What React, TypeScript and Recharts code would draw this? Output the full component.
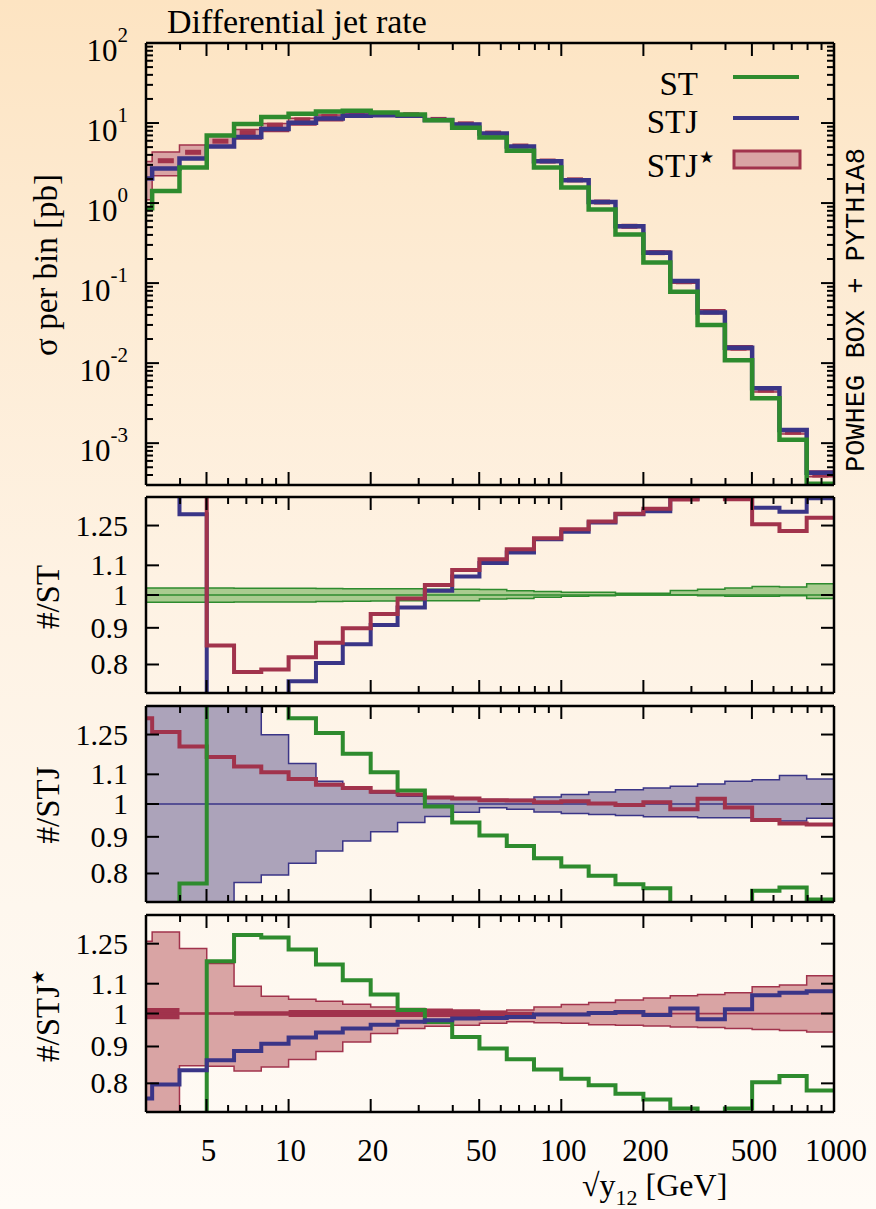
import { ComposedChart, Line, Area, Scatter, XAxis, YAxis, ReferenceLine } from 'recharts'

const SERIF = '"Liberation Serif", "Times New Roman", serif'
const MONO = '"Liberation Mono", "DejaVu Sans Mono", monospace'

const GREEN = '#2e8b2e'
const BLUE = '#3a3587'
const RED = '#a1334c'
const PINK = '#d9a4a4'
const LILAC = '#aca3ba'
const MINT = '#a9cb8f'

// bin edges of sqrt(y12) in GeV (26 bins, last entry closes the final bin)
const binEdges = [2.51, 3.16, 3.98, 5.01, 6.31, 7.94, 10, 12.6, 15.8, 20, 25.1, 31.6, 39.8, 50.1, 63.1, 79.4, 100, 126, 158, 200, 251, 316, 398, 501, 631, 794, 1000]

// cross section per bin [pb]
const stXsec = [0.86, 1.41, 2.78, 7.0, 9.7, 11.9, 13.1, 13.9, 14.2, 13.5, 12.8, 10.8, 8.7, 6.6, 4.5, 2.78, 1.57, 0.83, 0.405, 0.181, 0.0778, 0.0299, 0.0109, 0.00363, 0.0011, 0.00031]
const stjXsec = [2.03, 2.7, 3.6, 5.1, 6.7, 8.4, 10.1, 11.4, 12.3, 12.5, 12.3, 10.9, 9.6, 7.4, 5.1, 3.33, 1.93, 1.03, 0.515, 0.239, 0.106, 0.043, 0.0156, 0.00484, 0.00146, 0.000428]
const starXsec = [2.67, 3.38, 4.31, 5.93, 7.6, 9.4, 10.95, 12.1, 12.95, 13.0, 12.7, 11.1, 9.77, 7.49, 5.16, 3.35, 1.95, 1.03, 0.513, 0.24, 0.104, 0.0437, 0.0154, 0.0046, 0.00137, 0.0004]
const starXsecLo = [1.1, 2.2, 3.65, 5.0, 6.3, 7.85, 9.45, 10.7, 11.8, 12.2, 12.1, 10.7, 9.4, 7.25, 5.02, 3.25, 1.89, 0.995, 0.494, 0.231, 0.0996, 0.0418, 0.0147, 0.00437, 0.0013, 0.00038]
const starXsecHi = [3.3, 4.35, 5.3, 6.9, 8.3, 9.9, 11.5, 12.6, 13.3, 13.3, 12.9, 11.3, 9.9, 7.55, 5.22, 3.42, 2.0, 1.07, 0.535, 0.252, 0.11, 0.0464, 0.0165, 0.005, 0.0015, 0.00045]

// ratios to ST
const stjOverSt = [2.36, 1.91, 1.296, 0.72, 0.69, 0.706, 0.758, 0.804, 0.854, 0.908, 0.961, 1.014, 1.061, 1.108, 1.146, 1.196, 1.225, 1.262, 1.296, 1.309, 1.362, 1.44, 1.43, 1.324, 1.307, 1.365]
const starOverSt = [3.1, 2.4, 1.55, 0.85, 0.781, 0.787, 0.819, 0.858, 0.899, 0.941, 0.989, 1.033, 1.084, 1.122, 1.158, 1.2, 1.235, 1.266, 1.298, 1.319, 1.359, 1.46, 1.36, 1.255, 1.228, 1.282]
const stBandLo = [0.977, 0.977, 0.977, 0.977, 0.978, 0.978, 0.978, 0.979, 0.98, 0.981, 0.982, 0.982, 0.982, 0.987, 0.989, 0.993, 0.996, 0.998, 1.0, 1.0, 1.0, 0.998, 0.996, 0.996, 0.998, 0.989]
const stBandHi = [1.023, 1.023, 1.023, 1.023, 1.022, 1.022, 1.022, 1.021, 1.02, 1.02, 1.02, 1.019, 1.019, 1.018, 1.014, 1.011, 1.009, 1.009, 1.006, 1.006, 1.015, 1.019, 1.023, 1.028, 1.026, 1.037]

// ratios to STJ
const stOverStj = [0.42, 0.52, 0.775, 1.39, 1.45, 1.42, 1.317, 1.256, 1.175, 1.107, 1.044, 0.992, 0.942, 0.904, 0.874, 0.84, 0.818, 0.794, 0.773, 0.763, 0.72, 0.695, 0.7, 0.757, 0.765, 0.736]
const starOverStj = [1.317, 1.26, 1.203, 1.163, 1.128, 1.107, 1.084, 1.064, 1.053, 1.04, 1.031, 1.021, 1.018, 1.012, 1.011, 1.006, 1.009, 1.002, 0.997, 1.006, 0.983, 1.017, 0.989, 0.95, 0.939, 0.936]
const stjBandLo = [0.55, 0.6, 0.65, 0.7, 0.777, 0.796, 0.827, 0.86, 0.888, 0.915, 0.942, 0.961, 0.974, 0.988, 0.983, 0.975, 0.97, 0.967, 0.964, 0.96, 0.96, 0.957, 0.957, 0.95, 0.947, 0.955]
const stjBandHi = [1.6, 1.6, 1.55, 1.5, 1.45, 1.249, 1.139, 1.076, 1.057, 1.036, 1.025, 1.02, 1.017, 1.015, 1.015, 1.023, 1.031, 1.039, 1.047, 1.053, 1.059, 1.066, 1.076, 1.081, 1.096, 1.084]

// ratios to STJ*
const stOverStar = [0.32, 0.42, 0.645, 1.182, 1.285, 1.275, 1.227, 1.17, 1.112, 1.063, 1.011, 0.973, 0.928, 0.894, 0.864, 0.836, 0.812, 0.795, 0.774, 0.76, 0.738, 0.7, 0.738, 0.803, 0.819, 0.782]
const stjOverStar = [0.762, 0.797, 0.834, 0.861, 0.887, 0.908, 0.926, 0.941, 0.953, 0.965, 0.974, 0.979, 0.984, 0.986, 0.989, 0.997, 0.997, 1.002, 1.005, 0.995, 1.016, 0.982, 1.014, 1.06, 1.069, 1.074]
const starBandLo = [0.6, 0.65, 0.846, 0.845, 0.832, 0.843, 0.863, 0.886, 0.913, 0.938, 0.953, 0.96, 0.963, 0.969, 0.974, 0.971, 0.969, 0.965, 0.963, 0.961, 0.958, 0.956, 0.953, 0.95, 0.947, 0.943]
const starBandHi = [1.26, 1.298, 1.231, 1.173, 1.091, 1.057, 1.047, 1.04, 1.03, 1.021, 1.016, 1.014, 1.011, 1.007, 1.011, 1.021, 1.029, 1.036, 1.044, 1.051, 1.058, 1.063, 1.069, 1.089, 1.095, 1.128]
const starStatLo = [0.982, 0.982, 0.996, 0.996, 0.993, 0.993, 0.989, 0.989, 0.989, 0.989, 0.989, 0.989, 0.989, 0.991, 0.994, 0.998, 0.998, 0.998, 0.998, 0.998, 0.998, 0.998, 0.998, 0.998, 0.998, 0.998]
const starStatHi = [1.018, 1.018, 1.004, 1.004, 1.007, 1.007, 1.011, 1.011, 1.011, 1.011, 1.011, 1.011, 1.011, 1.009, 1.006, 1.002, 1.002, 1.002, 1.002, 1.002, 1.002, 1.002, 1.002, 1.002, 1.002, 1.002]

// axis ticks
const X_MAJOR = [5, 10, 20, 50, 100, 200, 500, 1000]
const X_TICKS = [4, 5, 6, 7, 8, 9, 10, 20, 30, 40, 50, 60, 70, 80, 90, 100, 200, 300, 400, 500, 600, 700, 800, 900, 1000]
const XSEC_DECADES = [1e-3, 1e-2, 1e-1, 1, 10, 100]
const XSEC_EXP = ['-3', '-2', '-1', '0', '1', '2']
const RATIO_TICKS = [0.8, 0.9, 1, 1.1, 1.25]

const X_DOMAIN: [number, number] = [3, 1000]
const XSEC_DOMAIN: [number, number] = [3e-4, 100]
const RATIO_DOMAIN: [number, number] = [0.73, 1.37]

const xsecMinor = [1e-4, 1e-3, 1e-2, 1e-1, 1, 10]
  .flatMap((d) => [2, 3, 4, 5, 6, 7, 8, 9].map((m) => Number((m * d).toPrecision(3))))
  .filter((v) => v > XSEC_DOMAIN[0] && v < XSEC_DOMAIN[1])
const XSEC_TICKS = [...XSEC_DECADES, ...xsecMinor]

// one row per bin edge; the closing edge repeats the last bin so stepAfter reaches 1000
const last = binEdges.length - 2
const rows = binEdges.map((x, i) => {
  const k = Math.min(i, last)
  return {
    x,
    st: stXsec[k], stj: stjXsec[k], star: starXsec[k],
    starBand: [starXsecLo[k], starXsecHi[k]],
    stjSt: stjOverSt[k], starSt: starOverSt[k], stBand: [stBandLo[k], stBandHi[k]],
    stStj: stOverStj[k], starStj: starOverStj[k], stjBand: [stjBandLo[k], stjBandHi[k]],
    stStar: stOverStar[k], stjStar: stjOverStar[k],
    starRBand: [starBandLo[k], starBandHi[k]], starStat: [starStatLo[k], starStatHi[k]],
  }
})
const centres = starXsec.map((v, i) => ({ x: Math.sqrt(binEdges[i] * binEdges[i + 1]), star: v }))

const FRAME = { stroke: '#000', strokeWidth: 2.5 }
const TICK = { stroke: '#000', strokeWidth: 2 }

const tickBottom = (labels: boolean) => (p: any) => {
  const v = p.payload.value
  const major = X_MAJOR.includes(v)
  return (
    <g>
      <line x1={p.x} x2={p.x} y1={p.y} y2={p.y - (major ? 13 : 7)} {...TICK} />
      {labels && major && (
        <text x={p.x + 2} y={p.y + 49} textAnchor="middle" fontFamily={SERIF} fontSize={31} fill="#000">{v}</text>
      )}
    </g>
  )
}

const tickTop = (p: any) => {
  const major = X_MAJOR.includes(p.payload.value)
  return <line x1={p.x} x2={p.x} y1={p.y} y2={p.y + (major ? 13 : 7)} {...TICK} />
}

const tickLeft = (log: boolean) => (p: any) => {
  const v = p.payload.value
  const i = XSEC_DECADES.indexOf(v)
  const major = !log || i >= 0
  return (
    <g>
      <line x1={p.x} x2={p.x + (major ? 13 : 7)} y1={p.y} y2={p.y} {...TICK} />
      {log && major && (
        <text x={p.x - 18} y={p.y + 17.5} textAnchor="end" fontFamily={SERIF} fill="#000">
          <tspan fontSize={31}>10</tspan>
          <tspan fontSize={21} dy={-18.5}>{XSEC_EXP[i]}</tspan>
        </text>
      )}
      {!log && (
        <text x={p.x - 18} y={p.y + 10} textAnchor="end" fontFamily={SERIF} fontSize={30} fill="#000">{v}</text>
      )}
    </g>
  )
}

const tickRight = (log: boolean) => (p: any) => {
  const major = !log || XSEC_DECADES.includes(p.payload.value)
  return <line x1={p.x} x2={p.x - (major ? 13 : 7)} y1={p.y} y2={p.y} {...TICK} />
}

// border with inward ticks on all four sides
function frameAxes(topH: number, bottomH: number, log: boolean, xLabels: boolean) {
  const yDomain = log ? XSEC_DOMAIN : RATIO_DOMAIN
  const yTicks = log ? XSEC_TICKS : RATIO_TICKS
  return [
    <XAxis key="xb" dataKey="x" type="number" scale="log" domain={X_DOMAIN} allowDataOverflow
      ticks={X_TICKS} interval={0} height={bottomH} tickSize={0} tickMargin={0} tickLine={false}
      axisLine={FRAME} tick={tickBottom(xLabels)} />,
    <XAxis key="xt" xAxisId="top" orientation="top" dataKey="x" type="number" scale="log" domain={X_DOMAIN}
      allowDataOverflow ticks={X_TICKS} interval={0} height={topH} tickSize={0} tickMargin={0}
      tickLine={false} axisLine={FRAME} tick={tickTop} />,
    <YAxis key="yl" type="number" scale="log" domain={yDomain} allowDataOverflow ticks={yTicks}
      interval={0} width={146} tickSize={0} tickMargin={0} tickLine={false} axisLine={FRAME}
      tick={tickLeft(log)} />,
    <YAxis key="yr" yAxisId="right" orientation="right" type="number" scale="log" domain={yDomain}
      allowDataOverflow ticks={yTicks} interval={0} width={42} tickSize={0} tickMargin={0}
      tickLine={false} axisLine={FRAME} tick={tickRight(log)} />,
  ]
}

const NO_MARGIN = { top: 0, right: 0, bottom: 0, left: 0 }

// short bar marking the STJ* central value in each bin
const Dash = (p: any) => <rect x={p.cx - 8} y={p.cy - 2.5} width={16} height={5} fill={RED} />

function XsecPanel() {
  return (
    <ComposedChart width={876} height={490} data={rows} margin={NO_MARGIN}>
      <Area dataKey="starBand" type="stepAfter" fill={PINK} fillOpacity={1} stroke={RED} strokeWidth={1.5} isAnimationActive={false} />
      <Scatter data={centres} dataKey="star" shape={Dash} zIndex={200} isAnimationActive={false} />
      <Line dataKey="stj" type="stepAfter" stroke={BLUE} strokeWidth={4.5} dot={false} isAnimationActive={false} />
      <Line dataKey="st" type="stepAfter" stroke={GREEN} strokeWidth={4.5} dot={false} isAnimationActive={false} />
      {frameAxes(43, 5, true, false)}
    </ComposedChart>
  )
}

function RatioStPanel() {
  return (
    <ComposedChart width={876} height={216} data={rows} margin={NO_MARGIN}>
      <Area dataKey="stBand" type="stepAfter" fill={MINT} fillOpacity={1} stroke={GREEN} strokeWidth={1.5} isAnimationActive={false} />
      <ReferenceLine y={1} stroke={GREEN} strokeWidth={1.5} />
      <Line dataKey="stjSt" type="stepAfter" stroke={BLUE} strokeWidth={4} dot={false} isAnimationActive={false} />
      <Line dataKey="starSt" type="stepAfter" stroke={RED} strokeWidth={4} dot={false} isAnimationActive={false} />
      {frameAxes(10, 10, false, false)}
    </ComposedChart>
  )
}

function RatioStjPanel() {
  return (
    <ComposedChart width={876} height={216} data={rows} margin={NO_MARGIN}>
      <Area dataKey="stjBand" type="stepAfter" fill={LILAC} fillOpacity={1} stroke={BLUE} strokeWidth={1.5} isAnimationActive={false} />
      <ReferenceLine y={1} stroke={BLUE} strokeWidth={1.5} />
      <Line dataKey="starStj" type="stepAfter" stroke={RED} strokeWidth={4} dot={false} isAnimationActive={false} />
      <Line dataKey="stStj" type="stepAfter" stroke={GREEN} strokeWidth={4} dot={false} isAnimationActive={false} />
      {frameAxes(10, 10, false, false)}
    </ComposedChart>
  )
}

function RatioStarPanel() {
  return (
    <ComposedChart width={876} height={304} data={rows} margin={NO_MARGIN}>
      <Area dataKey="starRBand" type="stepAfter" fill={PINK} fillOpacity={1} stroke={RED} strokeWidth={1.5} isAnimationActive={false} />
      <Area dataKey="starStat" type="stepAfter" fill={RED} fillOpacity={1} stroke="none" isAnimationActive={false} />
      <ReferenceLine y={1} stroke={RED} strokeWidth={1.5} />
      <Line dataKey="stStar" type="stepAfter" stroke={GREEN} strokeWidth={4} dot={false} isAnimationActive={false} />
      <Line dataKey="stjStar" type="stepAfter" stroke={BLUE} strokeWidth={4} dot={false} isAnimationActive={false} />
      {frameAxes(10, 97, false, true)}
    </ComposedChart>
  )
}

const at = (top: number): React.CSSProperties => ({ position: 'absolute', left: 0, top })

export default function App() {
  return (
    <div
      style={{
        position: 'absolute', left: 0, top: 0, width: 876, height: 1209, overflow: 'hidden',
        background: 'linear-gradient(180deg, #fde4c2 0%, #fdebd3 22%, #fef2e3 48%, #fef7ee 75%, #fffbf6 100%)',
      }}
    >
      <div style={at(0)}><XsecPanel /></div>
      <div style={at(487)}><RatioStPanel /></div>
      <div style={at(696)}><RatioStjPanel /></div>
      <div style={at(905)}><RatioStarPanel /></div>

      <svg width={876} height={1209} style={{ position: 'absolute', left: 0, top: 0, pointerEvents: 'none' }}
        fontFamily={SERIF} fill="#000">
        <text x={167} y={33} fontSize={34}>Differential jet rate</text>
        <text transform="translate(57 265) rotate(-90)" textAnchor="middle" fontSize={33}>σ per bin [pb]</text>
        <text transform="translate(59 597) rotate(-90)" textAnchor="middle" fontSize={33}>#/ST</text>
        <text transform="translate(59 805) rotate(-90)" textAnchor="middle" fontSize={33}>#/STJ</text>
        <text transform="translate(59 1016) rotate(-90)" textAnchor="middle" fontSize={33}>
          #/STJ<tspan fontSize={17} dy={-15}>★</tspan>
        </text>
        <text x={582} y={1196} fontSize={32}>
          √y<tspan fontSize={22} dy={9}>12</tspan><tspan dy={-9}> [GeV]</tspan>
        </text>

        <text x={698} y={95} textAnchor="end" fontSize={33}>ST</text>
        <line x1={733} x2={799} y1={77} y2={77} stroke={GREEN} strokeWidth={4} />
        <text x={698} y={133} textAnchor="end" fontSize={33}>STJ</text>
        <line x1={733} x2={799} y1={118} y2={118} stroke={BLUE} strokeWidth={4} />
        <text x={698} y={177} textAnchor="end" fontSize={33}>STJ</text>
        <text x={699} y={163} fontSize={17}>★</text>
        <rect x={734} y={151} width={66} height={17} fill={PINK} stroke={RED} strokeWidth={3} />

        <text transform="translate(864 310) rotate(-90)" textAnchor="middle" fontFamily={MONO} fontSize={27}>
          POWHEG BOX + PYTHIA8
        </text>
      </svg>
    </div>
  )
}
